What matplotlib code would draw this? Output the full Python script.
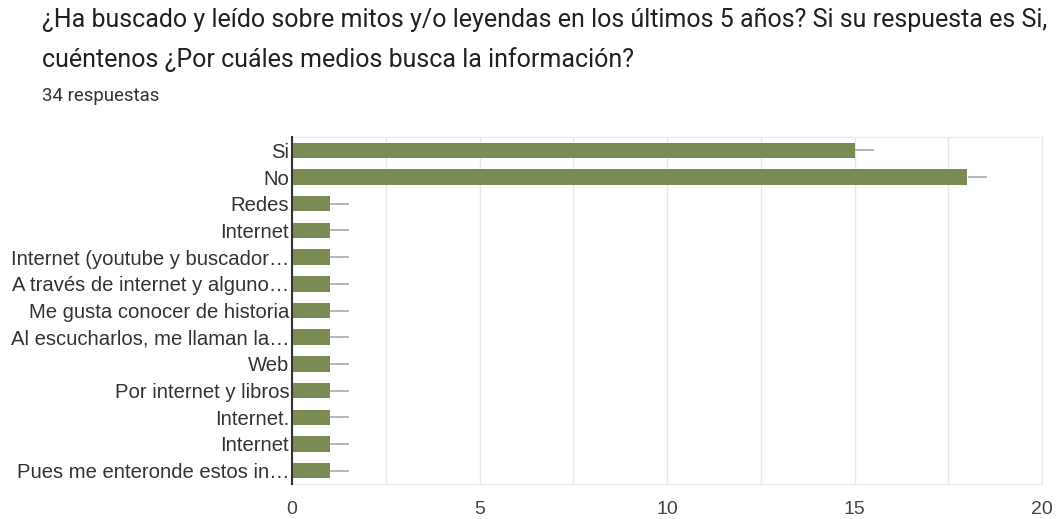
import matplotlib
matplotlib.use("Agg")
import matplotlib.pyplot as plt
from matplotlib.ticker import MultipleLocator

plt.rcParams['font.family'] = ['Roboto', 'DejaVu Sans']

title_line1 = "¿Ha buscado y leído sobre mitos y/o leyendas en los últimos 5 años? Si su respuesta es Si,"
title_line2 = "cuéntenos ¿Por cuáles medios busca la información?"
subtitle = "34 respuestas"

categories = [
    "Si", "No", "Redes", "Internet", "Internet (youtube y buscador…",
    "A través de internet y alguno…", "Me gusta conocer de historia",
    "Al escucharlos, me llaman la…", "Web", "Por internet y libros",
    "Internet.", "Internet", "Pues me enteronde estos in…",
]
counts = [15, 18, 1, 1, 1, 1, 1, 1, 1, 1, 1, 1, 1]
x_ticks = [0, 5, 10, 15, 20]

bar_color = "#7b8b55"
label_font = ['Liberation Sans', 'DejaVu Sans']
W, H = 1056, 519
fig = plt.figure(figsize=(W / 100, H / 100), dpi=100)
ax = fig.add_axes([292 / W, 1 - 484 / H, (1042 - 292) / W, (484 - 137) / H])

ypos = list(range(len(categories)))
ax.barh(ypos, counts, height=0.58, color=bar_color, zorder=3)
# short grey stub after each bar
for y, v in zip(ypos, counts):
    ax.plot([v + 0.05, v + 0.5], [y, y], color="#b0b0b0", lw=1.3, zorder=3)

ax.set_ylim(len(categories) - 0.5, -0.5)
ax.set_xlim(0, 20)
ax.set_yticks(ypos)
ax.set_yticklabels(categories, fontsize=14.6, color="#333333", family=label_font)
ax.set_xticks(x_ticks)
ax.set_xticklabels([str(t) for t in x_ticks], fontsize=14, color="#444444", family=label_font)
ax.xaxis.set_minor_locator(MultipleLocator(2.5))
ax.grid(axis="x", which="both", color="#e8e8e8", lw=1, zorder=0)
ax.tick_params(axis="both", which="both", length=0)
ax.tick_params(axis="y", pad=2)
ax.tick_params(axis="x", pad=12)
for s in ["top", "right", "bottom"]:
    ax.spines[s].set_color("#ececec")
    ax.spines[s].set_linewidth(1)
ax.spines["left"].set_color("#333333")
ax.spines["left"].set_linewidth(1.5)
ax.spines["left"].set_zorder(4)

fig.text(42 / W, 1 - 20 / H, title_line1, fontsize=18, color="#202124", va="center")
fig.text(42 / W, 1 - 60 / H, title_line2, fontsize=18, color="#202124", va="center")
fig.text(42 / W, 1 - 96 / H, subtitle, fontsize=13.4, color="#333333", va="center")

fig.savefig("out.png", dpi=100, facecolor="white")
